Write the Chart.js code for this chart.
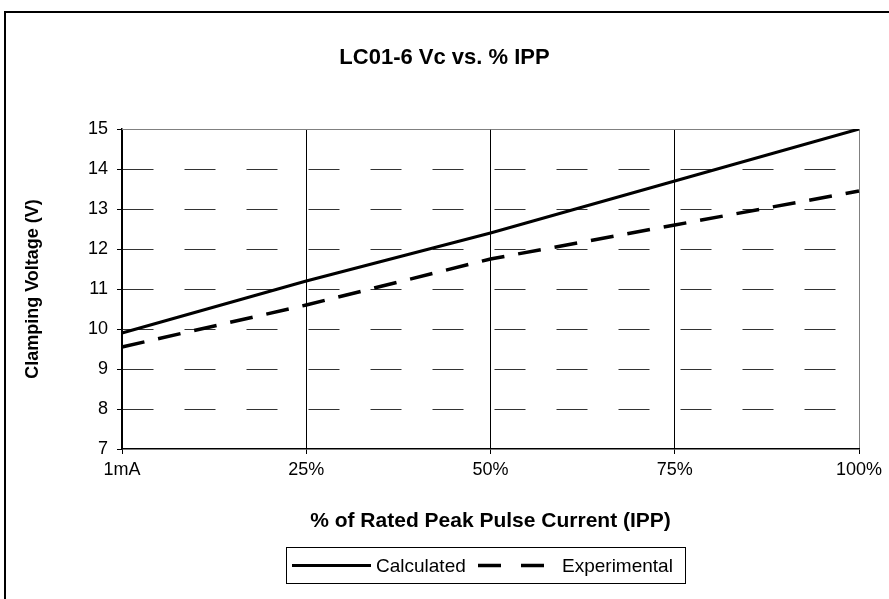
<!DOCTYPE html>
<html>
<head>
<meta charset="utf-8">
<script src="https://cdn.jsdelivr.net/npm/chart.js@4"></script>
<style>
  html, body { margin: 0; padding: 0; background: #fff; }
  #wrap { width: 889px; height: 599px; position: relative; }
</style>
</head>
<body>
<div id="wrap"><canvas id="vc" width="889" height="599"></canvas></div>
<script>
var categories = ["1mA", "25%", "50%", "75%", "100%"];
var calculated = [9.9, 11.2, 12.4, 13.7, 15.0];
var experimental = [9.55, 10.6, 11.75, 12.6, 13.45];
var yTicks = [7, 8, 9, 10, 11, 12, 13, 14, 15];

var FONT = "'Liberation Sans', Arial, sans-serif";

// outer frame, drawn before everything else
var framePlugin = {
  id: "frame",
  beforeDraw: function (chart) {
    var ctx = chart.ctx;
    ctx.save();
    ctx.fillStyle = "#fff";
    ctx.fillRect(0, 0, chart.width, chart.height);
    ctx.strokeStyle = "#000";
    ctx.lineWidth = 2;
    ctx.strokeRect(5, 12, chart.width + 20, chart.height + 20);
    ctx.restore();
  },
  // grey top edge of the plot area (the 15 gridline is hidden)
  beforeDatasetsDraw: function (chart) {
    var a = chart.chartArea;
    var ctx = chart.ctx;
    ctx.save();
    ctx.strokeStyle = "#808080";
    ctx.lineWidth = 1;
    ctx.beginPath();
    ctx.moveTo(a.left, Math.round(a.top) + 0.5);
    ctx.lineTo(a.right, Math.round(a.top) + 0.5);
    ctx.stroke();
    ctx.restore();
  }
};

// boxed legend with line samples, under the axis title
var legendBoxPlugin = {
  id: "legendBox",
  afterDraw: function (chart) {
    var ctx = chart.ctx;
    var sets = chart.data.datasets;
    var box = { x: 286.5, y: 547.5, w: 399, h: 36 };
    var sampleX = [292, 478];
    var sampleLen = 79;
    var midY = box.y + box.h / 2;
    ctx.save();
    ctx.strokeStyle = "#000";
    ctx.lineWidth = 1;
    ctx.setLineDash([]);
    ctx.strokeRect(box.x, box.y, box.w, box.h);
    ctx.font = "19px " + FONT;
    ctx.fillStyle = "#000";
    ctx.textBaseline = "middle";
    for (var i = 0; i < sets.length; i++) {
      var ds = sets[i];
      ctx.beginPath();
      ctx.lineWidth = ds.borderWidth;
      ctx.setLineDash(ds.legendDash || []);
      ctx.moveTo(sampleX[i], midY);
      ctx.lineTo(sampleX[i] + sampleLen, midY);
      ctx.stroke();
      ctx.setLineDash([]);
      ctx.fillText(ds.label, sampleX[i] + sampleLen + 5, midY + 1);
    }
    ctx.restore();
  }
};

new Chart(document.getElementById("vc"), {
  type: "line",
  data: {
    labels: categories,
    datasets: [
      {
        label: "Calculated",
        data: calculated,
        borderColor: "#000",
        borderWidth: 3,
        pointRadius: 0,
        tension: 0
      },
      {
        label: "Experimental",
        data: experimental,
        borderColor: "#000",
        borderWidth: 3.5,
        borderDash: [23, 14],
        legendDash: [23, 20],
        pointRadius: 0,
        tension: 0
      }
    ]
  },
  options: {
    responsive: false,
    animation: false,
    layout: { padding: 0 },
    plugins: {
      legend: { display: false },
      tooltip: { enabled: false },
      title: {
        display: true,
        text: "LC01-6 Vc vs. % IPP",
        color: "#000",
        font: { family: FONT, size: 22, weight: "bold", lineHeight: 1.2 },
        padding: { top: 44.8, bottom: 57.8 }
      }
    },
    scales: {
      x: {
        type: "category",
        offset: false,
        afterFit: function (scale) { scale.height = 150; },
        grid: {
          color: function (c) { return c.index === categories.length - 1 ? "#808080" : "#000"; },
          lineWidth: 1,
          tickLength: 5,
          tickColor: "#000"
        },
        border: { color: "#000", width: 1.5 },
        ticks: {
          color: "#000",
          padding: 5,
          maxRotation: 0,
          font: { family: FONT, size: 18 }
        },
        title: {
          display: true,
          text: "% of Rated Peak Pulse Current (IPP)",
          color: "#000",
          font: { family: FONT, size: 21, weight: "bold", lineHeight: 1.2 },
          padding: { top: 0, bottom: 65.4 }
        }
      },
      y: {
        min: 7,
        max: 15,
        afterFit: function (scale) { scale.width = 122; },
        afterBuildTicks: function (scale) {
          scale.ticks = yTicks.map(function (v) { return { value: v }; });
        },
        grid: {
          color: function (c) {
            var v = c.tick && c.tick.value;
            return v === 15 || v === 7 ? "rgba(0,0,0,0)" : "#333";
          },
          lineWidth: 1,
          tickLength: 5,
          tickColor: "#000",
          tickBorderDash: []
        },
        border: { color: "#000", width: 1.5, dash: [31, 31] },
        ticks: {
          color: "#000",
          padding: 9,
          font: { family: FONT, size: 18 }
        },
        title: {
          display: true,
          text: "Clamping Voltage (V)",
          color: "#000",
          font: { family: FONT, size: 18, weight: "bold", lineHeight: 1.2 },
          padding: { top: 22.2, bottom: 0 }
        }
      },
      // empty right-hand spacer so the chart area stops at x=859
      yRight: {
        position: "right",
        min: 7,
        max: 15,
        afterFit: function (scale) { scale.width = 30; },
        grid: { drawOnChartArea: false, drawTicks: false },
        border: { display: false },
        ticks: { display: false }
      }
    }
  },
  plugins: [framePlugin, legendBoxPlugin]
});
</script>
</body>
</html>
